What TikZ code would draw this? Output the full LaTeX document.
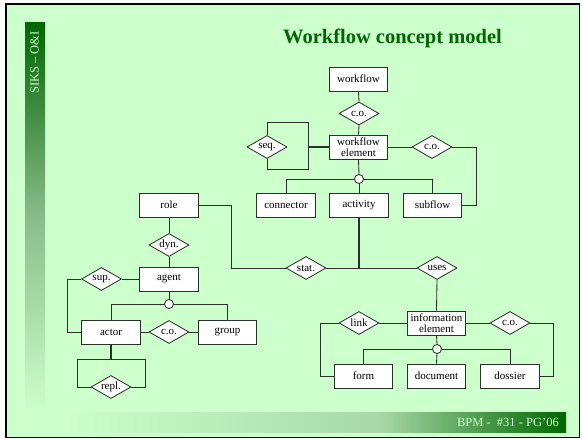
\documentclass[tikz,border=0pt]{standalone}
\usepackage{fontspec}
\setmainfont{Liberation Serif}
\usetikzlibrary{shapes.geometric}
\definecolor{slidebg}{HTML}{CCFFCC}
\definecolor{slidegreen}{HTML}{006600}
\definecolor{midgreen}{HTML}{8ABB8A}
\definecolor{palegreen}{HTML}{A8D8A8}
\definecolor{inkline}{HTML}{2A302A}
\pgfdeclarelayer{backdrop}
\pgfdeclarelayer{wires}
\pgfsetlayers{backdrop,wires,main}

\begin{document}
\begin{tikzpicture}[x=1pt,y=-1pt,
  entity/.style={draw=inkline, fill=white, line width=0.85pt, minimum width=58.5pt,
    minimum height=24pt, inner sep=0pt, align=center,
    font=\fontsize{11}{11}\selectfont},
  relation/.style={draw=inkline, fill=white, line width=0.85pt, shape=diamond,
    aspect=1.74, minimum width=40pt, minimum height=23pt, inner sep=0pt,
    font=\fontsize{11}{11}\selectfont},
  junction/.style={draw=inkline, fill=white, line width=0.85pt, circle,
    minimum size=9pt, inner sep=0pt},
  wire/.style={draw=inkline, line width=0.85pt},
  heavywire/.style={draw=inkline, line width=1.8pt}]

\useasboundingbox (0,0) rectangle (582,439);

% slide frame and decoration
\begin{pgfonlayer}{backdrop}
\fill[white] (0,0) rectangle (582,439);
\draw[fill=slidebg, line width=1.5pt] (6,4) rectangle (579.5,437.5);
\shade[top color=slidegreen, bottom color=slidebg, middle color=midgreen]
  (25,22) rectangle (45,410);
\shade[left color=slidebg, right color=palegreen] (65,412) rectangle (380.5,432);
\shade[left color=palegreen, right color=slidegreen] (380,412) rectangle (566,432);
\end{pgfonlayer}

\node[rotate=90, anchor=base west, text=slidebg, inner sep=0pt,
  font=\fontsize{12.5}{14}\selectfont] (brand) at (38.5,94) {SIKS -- O\&I};
\node[anchor=base, text=slidegreen, inner sep=0pt,
  font=\bfseries\fontsize{20.5}{24}\selectfont] (title) at (392.5,43.5)
  {Workflow concept model};
\node[anchor=base east, text=slidebg, inner sep=0pt,
  font=\fontsize{12.5}{14}\selectfont] (footer) at (559,426)
  {BPM -\ \ \#31 - PG'06};

% bend points of the connectors
\coordinate (seqtop) at (308,122);
\coordinate (seqbot) at (308,169);
\coordinate (subturn) at (476,147);
\coordinate (roleturn) at (231,205);
\coordinate (supturn) at (67,279);
\coordinate (replleft) at (77,359);
\coordinate (replright) at (145,359);
\coordinate (replmid) at (111,359);
\coordinate (linkturn) at (320,323);
\coordinate (coturn) at (553,323);

% ---- entities and relationships ----
\node[entity] (workflow) at (358.5,79) {workflow};
\node[relation] (co1) at (359,113.5) {c.o.};
\node[entity] (wfe) at (358.5,147) {workflow\\element};
\node[relation] (seq) at (267,147) {seq.};
\node[relation] (co2) at (432,147) {c.o.};
\node[entity] (connector) at (286,205) {connector};
\node[entity] (activity) at (359,205) {activity};
\node[entity] (subflow) at (432.5,205) {subflow};
\node[entity] (role) at (169,205) {role};
\node[relation] (dyn) at (169,245) {dyn.};
\node[relation] (stat) at (306,268) {stat.};
\node[relation] (uses) at (437,268) {uses};
\node[entity] (agent) at (169,279) {agent};
\node[relation] (sup) at (101.5,279) {sup.};
\node[entity] (actor) at (111,332) {actor};
\node[relation] (co3) at (169,332) {c.o.};
\node[entity] (group) at (227.5,332) {group};
\node[relation] (repl) at (111,387) {repl.};
\node[entity] (ie) at (436.5,323) {information\\element};
\node[relation] (link) at (359,323) {link};
\node[relation] (co4) at (510,323) {c.o.};
\node[entity] (form) at (363.5,376) {form};
\node[entity] (document) at (436.5,376) {document};
\node[entity] (dossier) at (510,376) {dossier};

% ---- generalisation junctions ----
\node[junction] (j1) at (359,179) {};
\node[junction] (j2) at (169,304) {};
\node[junction] (j3) at (437,349) {};

% ---- connectors, kept beneath the shapes ----
\begin{pgfonlayer}{wires}
\path[wire] (workflow.south) -- (co1.north);
\path[wire] (co1.south) -- (wfe.north);
\path[wire] (seq.north) |- (seqtop) -- (seqbot) -| (seq.south);
\path[heavywire] (wfe.west) -- (wfe.west -| seqtop);
\path[wire] (wfe.east) -- (co2.west);
\path[wire] (co2.east) -- (subturn) |- (subflow.east);
\path[wire] (wfe.south) -- (j1.north);
\path[wire] (j1.south) -- (activity.north);
\path[wire] (connector.north) |- (j1.west);
\path[wire] (subflow.north) |- (j1.east);
\path[wire] (role.east) -- (roleturn) |- (stat.west);
\path[wire] (stat.east) -- (uses.west);
\path[heavywire] (activity.south) -- (activity.south |- stat.east);
\path[wire] (role.south) -- (dyn.north);
\path[wire] (dyn.south) -- (agent.north);
\path[wire] (sup.east) -- (agent.west);
\path[wire] (sup.west) -- (supturn) |- (actor.west);
\path[wire] (agent.south) -- (j2.north);
\path[wire] (actor.north) |- (j2.west);
\path[wire] (group.north) |- (j2.east);
\path[wire] (actor.east) -- (co3.west);
\path[wire] (co3.east) -- (group.west);
\path[heavywire] (actor.south) -- (replmid);
\path[wire] (repl.west) -| (replleft) -- (replright) |- (repl.east);
\path[wire] (uses.south) -- (ie.north);
\path[wire] (link.east) -- (ie.west);
\path[wire] (link.west) -- (linkturn) |- (form.west);
\path[wire] (ie.east) -- (co4.west);
\path[wire] (co4.east) -- (coturn) |- (dossier.east);
\path[wire] (ie.south) -- (j3.north);
\path[wire] (j3.south) -- (document.north);
\path[wire] (form.north) |- (j3.west);
\path[wire] (dossier.north) |- (j3.east);
\end{pgfonlayer}
\end{tikzpicture}
\end{document}
